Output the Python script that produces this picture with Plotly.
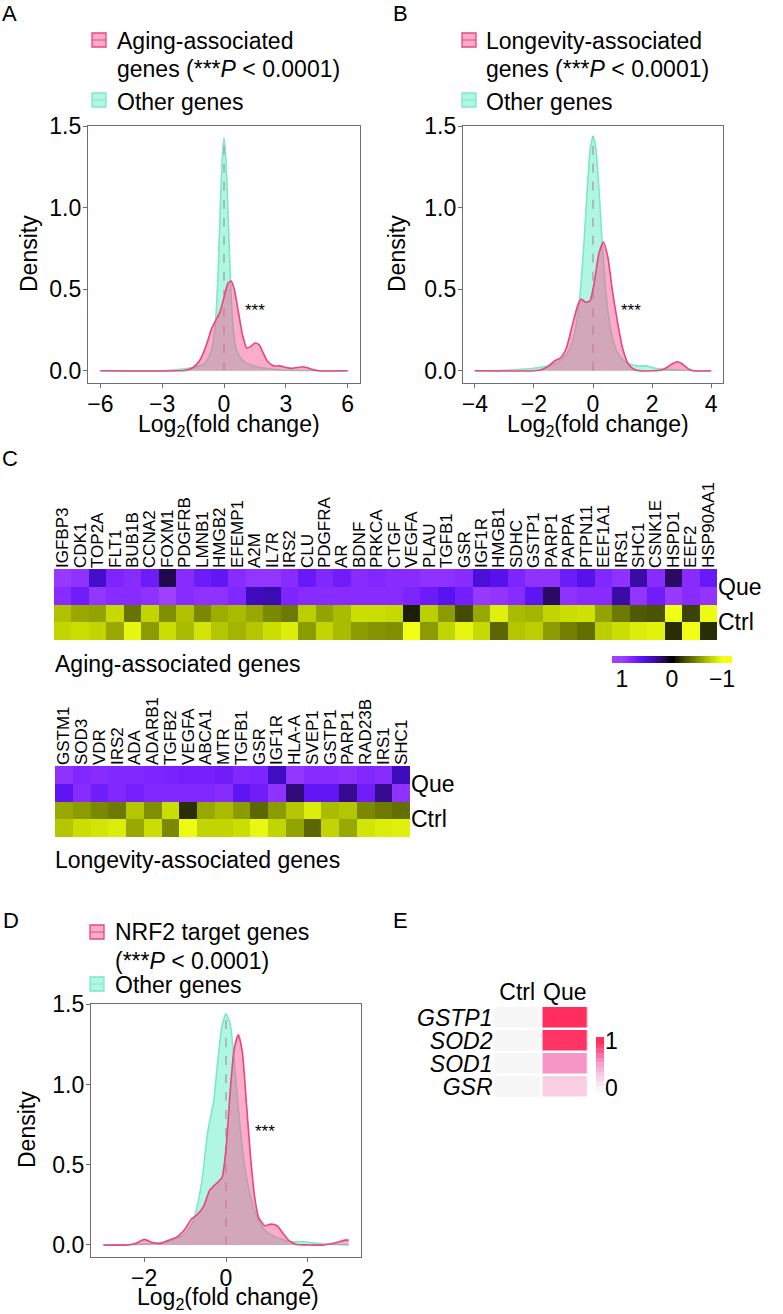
import plotly.graph_objects as go

W, H = 783, 1314
FONT = "Liberation Sans, Arial, Helvetica, sans-serif"

# ---------------- Panel A: aging-associated vs other genes ----------------
a_other_x = [-6, -3, -2, -1.5, -1.2, -1.0, -0.8, -0.6, -0.5, -0.4, -0.3, -0.2, -0.1, 0.0,
             0.1, 0.2, 0.3, 0.4, 0.5, 0.6, 0.8, 1.0, 1.3, 1.6, 2.0, 2.5, 3.0, 6]
a_other_y = [0, 0, 0.01, 0.02, 0.03, 0.04, 0.07, 0.13, 0.2, 0.32, 0.56, 0.92, 1.27, 1.43,
             1.28, 0.95, 0.6, 0.34, 0.2, 0.13, 0.08, 0.055, 0.035, 0.025, 0.015, 0.008, 0.003, 0]
a_aging_x = [-6, -2.2, -1.8, -1.5, -1.2, -1.0, -0.8, -0.6, -0.4, -0.2, 0.0, 0.2, 0.35, 0.5,
             0.7, 0.9, 1.1, 1.3, 1.5, 1.7, 1.9, 2.1, 2.4, 2.7, 3.0, 3.3, 3.6, 3.8, 4.0, 4.3, 4.6, 6]
a_aging_y = [0, 0, 0.005, 0.02, 0.06, 0.11, 0.18, 0.26, 0.31, 0.36, 0.45, 0.54, 0.55, 0.5,
             0.36, 0.22, 0.14, 0.15, 0.17, 0.16, 0.11, 0.06, 0.03, 0.03, 0.02, 0.015, 0.02, 0.025,
             0.02, 0.008, 0, 0]

# ---------------- Panel B: longevity-associated vs other genes ----------------
b_other_x = [-4, -3, -2.5, -2, -1.5, -1.2, -1.0, -0.8, -0.6, -0.45, -0.3, -0.2, -0.1, 0,
             0.1, 0.2, 0.3, 0.45, 0.6, 0.8, 1.0, 1.2, 1.5, 1.8, 2.0, 2.3, 2.8, 3.2, 4]
b_other_y = [0, 0.003, 0.008, 0.015, 0.03, 0.05, 0.08, 0.13, 0.25, 0.45, 0.8, 1.1, 1.35, 1.44,
             1.36, 1.12, 0.82, 0.45, 0.25, 0.12, 0.07, 0.045, 0.03, 0.03, 0.02, 0.01, 0.005, 0.002, 0]
b_long_x = [-4, -2.0, -1.7, -1.5, -1.3, -1.1, -0.9, -0.7, -0.5, -0.4, -0.25, -0.1, 0.05, 0.2,
            0.35, 0.5, 0.65, 0.8, 1.0, 1.2, 1.4, 1.6, 2.0, 2.3, 2.5, 2.7, 2.85, 3.0, 3.2, 3.4, 4]
b_long_y = [0, 0, 0.01, 0.03, 0.06, 0.08, 0.14, 0.28, 0.41, 0.44, 0.42, 0.43, 0.55, 0.72,
            0.79, 0.7, 0.5, 0.33, 0.14, 0.04, 0.008, 0, 0, 0.005, 0.02, 0.045, 0.055, 0.045,
            0.015, 0, 0]

# ---------------- Panel D: NRF2 target genes vs other genes ----------------
d_other_x = [-3, -2.0, -1.6, -1.3, -1.0, -0.8, -0.6, -0.45, -0.3, -0.2, -0.1, 0, 0.1, 0.2,
             0.3, 0.45, 0.6, 0.8, 1.0, 1.3, 1.6, 1.9, 2.2, 2.5, 3]
d_other_y = [0, 0.005, 0.015, 0.03, 0.07, 0.15, 0.38, 0.7, 0.9, 1.15, 1.36, 1.44, 1.38, 1.15,
             0.85, 0.5, 0.3, 0.15, 0.08, 0.04, 0.02, 0.02, 0.01, 0.005, 0]
d_nrf2_x = [-3, -2.4, -2.2, -2.0, -1.8, -1.6, -1.4, -1.2, -1.0, -0.85, -0.7, -0.55, -0.4,
            -0.25, -0.1, 0.0, 0.1, 0.2, 0.3, 0.4, 0.5, 0.6, 0.7, 0.8, 0.95, 1.1, 1.25, 1.4,
            1.55, 1.7, 2.0, 2.4, 2.7, 2.9, 3.0]
d_nrf2_y = [0, 0, 0.01, 0.035, 0.015, 0.01, 0.03, 0.05, 0.1, 0.16, 0.19, 0.24, 0.34, 0.38,
            0.42, 0.6, 0.95, 1.22, 1.31, 1.2, 0.88, 0.55, 0.3, 0.17, 0.12, 0.13, 0.12, 0.07,
            0.025, 0.005, 0, 0, 0.015, 0.03, 0.03]

# ---------------- Panel C: heatmaps ----------------
aging_genes = ["IGFBP3", "CDK1", "TOP2A", "FLT1", "BUB1B", "CCNA2", "FOXM1", "PDGFRB", "LMNB1",
               "HMGB2", "EFEMP1", "A2M", "IL7R", "IRS2", "CLU", "PDGFRA", "AR", "BDNF", "PRKCA",
               "CTGF", "VEGFA", "PLAU", "TGFB1", "GSR", "IGF1R", "HMGB1", "SDHC", "GSTP1",
               "PARP1", "PAPPA", "PTPN11", "EEF1A1", "IRS1", "SHC1", "CSNK1E", "HSPD1", "EEF2",
               "HSP90AA1"]
aging_que1 = [0.95, 0.9, 0.45, 0.8, 0.85, 0.7, 0.15, 0.85, 0.7, 0.65, 0.85, 0.92, 0.92, 0.85,
              0.68, 0.82, 0.72, 0.85, 0.82, 0.85, 0.85, 0.9, 0.9, 0.85, 0.5, 0.58, 0.8, 0.9,
              0.9, 0.7, 0.58, 0.82, 0.9, 0.35, 0.85, 0.2, 0.85, 0.68]
aging_que2 = [0.85, 0.72, 0.92, 0.85, 0.85, 0.9, 1.0, 0.85, 0.9, 0.9, 0.82, 0.4, 0.38, 0.8,
              0.85, 0.85, 0.85, 0.85, 0.85, 0.85, 0.8, 0.7, 0.6, 0.75, 0.95, 0.92, 0.85, 0.62,
              0.2, 0.9, 0.85, 0.85, 0.35, 0.92, 0.72, 0.95, 0.85, 0.92]
aging_ctrl1 = [-0.7, -0.6, -0.58, -0.8, -0.4, -0.78, -0.5, -0.7, -0.48, -0.62, -0.68, -0.6,
               -0.48, -0.42, -0.75, -0.58, -0.68, -0.82, -0.82, -0.8, -0.1, -0.75, -0.55, -0.25,
               -0.6, -0.92, -0.68, -0.65, -0.78, -0.82, -0.84, -0.58, -0.42, -0.3, -0.28, -1.0,
               -0.22, -0.98]
aging_ctrl2 = [-0.78, -0.82, -0.78, -0.6, -0.95, -0.55, -0.82, -0.68, -0.86, -0.72, -0.65,
               -0.72, -0.82, -0.9, -0.55, -0.78, -0.68, -0.55, -0.52, -0.5, -1.0, -0.55, -0.78,
               -0.95, -0.8, -0.35, -0.72, -0.75, -0.55, -0.45, -0.38, -0.75, -0.82, -0.9, -0.93,
               -0.15, -1.0, -0.15]

long_genes = ["GSTM1", "SOD3", "VDR", "IRS2", "ADA", "ADARB1", "TGFB2", "VEGFA", "ABCA1", "MTR",
              "TGFB1", "GSR", "IGF1R", "HLA-A", "SVEP1", "GSTP1", "PARP1", "RAD23B", "IRS1", "SHC1"]
long_que1 = [0.9, 0.82, 0.85, 0.82, 0.82, 0.8, 0.78, 0.75, 0.75, 0.72, 0.82, 0.8, 0.42, 0.92,
             0.85, 0.85, 0.88, 0.82, 0.85, 0.4]
long_que2 = [0.62, 0.85, 0.72, 0.82, 0.75, 0.82, 0.82, 0.82, 0.82, 0.85, 0.62, 0.72, 0.9, 0.25,
             0.65, 0.65, 0.3, 0.72, 0.3, 0.9]
long_ctrl1 = [-0.6, -0.55, -0.48, -0.42, -0.72, -0.5, -0.82, -0.15, -0.6, -0.68, -0.55, -0.35,
              -0.55, -0.72, -0.9, -0.68, -0.72, -0.48, -0.42, -0.38]
long_ctrl2 = [-0.72, -0.82, -0.86, -0.9, -0.6, -0.82, -0.48, -0.98, -0.78, -0.78, -0.82, -0.96,
              -0.78, -0.58, -0.35, -0.78, -0.6, -0.86, -0.9, -0.92]
row_labels = ["Que", "Ctrl"]

# ---------------- Panel E: NRF2 targets heatmap ----------------
e_genes = ["GSTP1", "SOD2", "SOD1", "GSR"]
e_groups = ["Ctrl", "Que"]
e_ctrl = [0.0, 0.0, 0.0, 0.0]
e_que = [1.0, 0.97, 0.55, 0.25]

# ---------------- styling ----------------
PINK_LINE = "#e8467c"
PINK_FILL = "rgba(245,90,145,0.5)"
GREEN_LINE = "#7ee8c6"
GREEN_FILL = "rgba(110,240,200,0.55)"
DASH = "#a8a8a8"
AXC = "#6e6e6e"

CS_C = [[0.0, "#f0ff14"], [0.1, "#c6da00"], [0.2, "#98a800"], [0.3, "#687400"],
        [0.4, "#383d06"], [0.5, "#000000"], [0.6, "#2a0a62"], [0.7, "#3e0cbc"],
        [0.8, "#5a12f2"], [0.9, "#7e24ff"], [1.0, "#a040ff"]]
CS_E = [[0.0, "#f6f6f6"], [0.3, "#f9c6df"], [0.6, "#f48cbf"], [0.8, "#f8588f"], [1.0, "#ff2e5e"]]


def px(x):
    return x / W


def py(y):
    return 1 - y / H


fig = go.Figure()


def density(xa, ya, ox, oy, gx, gy):
    fig.add_trace(go.Scatter(x=ox, y=oy, xaxis=xa, yaxis=ya, mode="lines",
                             line=dict(color=GREEN_LINE, width=1.6, shape="spline", smoothing=0.6),
                             fill="tozeroy", fillcolor=GREEN_FILL, hoverinfo="skip"))
    fig.add_trace(go.Scatter(x=[0, 0], y=[0, max(oy)], xaxis=xa, yaxis=ya, mode="lines",
                             line=dict(color=DASH, width=1.5, dash="dash"), hoverinfo="skip"))
    fig.add_trace(go.Scatter(x=gx, y=gy, xaxis=xa, yaxis=ya, mode="lines",
                             line=dict(color=PINK_LINE, width=1.6, shape="spline", smoothing=0.6),
                             fill="tozeroy", fillcolor=PINK_FILL, hoverinfo="skip"))


density("x", "y", a_other_x, a_other_y, a_aging_x, a_aging_y)
density("x2", "y2", b_other_x, b_other_y, b_long_x, b_long_y)
density("x3", "y3", d_other_x, d_other_y, d_nrf2_x, d_nrf2_y)

# heatmap C (aging)
fig.add_trace(go.Heatmap(z=[aging_que1, aging_que2, aging_ctrl1, aging_ctrl2],
                         x=list(range(len(aging_genes))), y=[0, 1, 2, 3],
                         colorscale=CS_C, zmin=-1, zmax=1, showscale=False,
                         xaxis="x4", yaxis="y4", hoverinfo="skip"))
# heatmap C (longevity)
fig.add_trace(go.Heatmap(z=[long_que1, long_que2, long_ctrl1, long_ctrl2],
                         x=list(range(len(long_genes))), y=[0, 1, 2, 3],
                         colorscale=CS_C, zmin=-1, zmax=1, showscale=False,
                         xaxis="x5", yaxis="y5", hoverinfo="skip"))
# colour key C (1 on the left, -1 on the right)
key_c = [i / 20 for i in range(-24, 25)]
fig.add_trace(go.Heatmap(z=[key_c], x=key_c, y=[0], colorscale=CS_C, zmin=-1, zmax=1,
                         showscale=False, xaxis="x6", yaxis="y6", hoverinfo="skip"))
# heatmap E
fig.add_trace(go.Heatmap(z=[[c, q] for c, q in zip(e_ctrl, e_que)], x=e_groups, y=e_genes,
                         colorscale=CS_E, zmin=0, zmax=1, showscale=False, xgap=2.5, ygap=2.5,
                         xaxis="x7", yaxis="y7", hoverinfo="skip"))
# colour key E
key_e = [i / 10 for i in range(-1, 12)]
fig.add_trace(go.Heatmap(z=[[v] for v in key_e], x=[0], y=key_e, colorscale=CS_E, zmin=0,
                         zmax=1, showscale=False, xaxis="x8", yaxis="y8", hoverinfo="skip"))

tickfont = dict(size=23, color="black", family=FONT)


def dens_x(dom, rng, vals, anchor):
    return dict(domain=[px(dom[0]), px(dom[1])], range=rng, tickvals=vals, showline=True,
                mirror=True, linecolor=AXC, linewidth=1.4, ticks="outside", ticklen=4,
                tickcolor=AXC, tickwidth=1.2, tickfont=tickfont, showgrid=False,
                zeroline=False, anchor=anchor, fixedrange=True, automargin=False,
                ticklabelstandoff=-4)


def dens_y(dom, anchor):
    return dict(domain=[py(dom[1]), py(dom[0])], range=[-0.075, 1.5015],
                tickvals=[0, 0.5, 1.0, 1.5], tickformat=".1f", showline=True, mirror=True,
                linecolor=AXC, linewidth=1.4, ticks="outside", ticklen=4, tickcolor=AXC,
                tickwidth=1.2, tickfont=tickfont, showgrid=False, zeroline=False,
                anchor=anchor, fixedrange=True, automargin=False, ticklabelstandoff=-3)


hidden = dict(showgrid=False, zeroline=False, showline=False, ticks="", fixedrange=True,
              automargin=False)

layout = dict(
    template="none",
    width=W, height=H, margin=dict(l=0, r=0, t=0, b=0, pad=0, autoexpand=False),
    showlegend=False,
    paper_bgcolor="white", plot_bgcolor="white", font=dict(family=FONT, color="black"),
    xaxis=dens_x((88, 360), [-6.6, 6.6], [-6, -3, 0, 3, 6], "y"),
    yaxis=dens_y((126, 383), "x"),
    xaxis2=dens_x((463, 723), [-4.4, 4.4], [-4, -2, 0, 2, 4], "y2"),
    yaxis2=dens_y((126, 383), "x2"),
    xaxis3=dens_x((91, 361), [-3.3, 3.3], [-2, 0, 2], "y3"),
    yaxis3=dens_y((1004, 1257), "x3"),
    xaxis4=dict(hidden, domain=[px(54), px(717)], range=[-0.5, len(aging_genes) - 0.5],
                side="top", tickmode="array", tickvals=list(range(len(aging_genes))),
                ticktext=aging_genes, tickangle=-90, tickfont=dict(size=17, family=FONT),
                anchor="y4"),
    yaxis4=dict(hidden, domain=[py(640), py(569)], range=[3.5, -0.5], side="right",
                tickvals=[0.5, 2.5], ticktext=row_labels, tickfont=tickfont, anchor="x4"),
    xaxis5=dict(hidden, domain=[px(55), px(410)], range=[-0.5, len(long_genes) - 0.5],
                side="top", tickmode="array", tickvals=list(range(len(long_genes))),
                ticktext=long_genes, tickangle=-90, tickfont=dict(size=17, family=FONT),
                anchor="y5"),
    yaxis5=dict(hidden, domain=[py(837), py(766)], range=[3.5, -0.5], side="right",
                tickvals=[0.5, 2.5], ticktext=row_labels, tickfont=tickfont, anchor="x5"),
    xaxis6=dict(hidden, domain=[px(612), px(732)], range=[1.2, -1.2], tickvals=[1, 0, -1],
                ticktext=["1", "0", "\u22121"], tickfont=tickfont, anchor="y6"),
    yaxis6=dict(hidden, domain=[py(663), py(656)], range=[-0.5, 0.5], showticklabels=False,
                anchor="x6"),
    xaxis7=dict(hidden, domain=[px(493.5), px(588.5)], side="top", tickfont=tickfont,
                anchor="y7", range=[-0.5, 1.5]),
    yaxis7=dict(hidden, domain=[py(1098), py(1006)], range=[3.5, -0.5], tickmode="array",
                tickvals=e_genes, ticktext=["<i>%s</i>" % g for g in e_genes],
                tickfont=tickfont, anchor="x7"),
    xaxis8=dict(hidden, domain=[px(596), px(604)], showticklabels=False, anchor="y8",
                range=[-0.5, 0.5]),
    yaxis8=dict(hidden, domain=[py(1092), py(1037)], range=[-0.09, 1.09], side="right",
                tickvals=[0, 1], ticktext=["0", "1"], tickfont=tickfont, anchor="x8"),
)
fig.update_layout(**layout)

# ---------- annotations ----------
ann = []


def text(x, y, s, size=23, xanchor="left", angle=0):
    ann.append(dict(x=px(x), y=py(y), xref="paper", yref="paper", text=s, showarrow=False,
                    xanchor=xanchor, yanchor="middle", textangle=angle,
                    font=dict(size=size, color="black", family=FONT)))


# panel letters
text(9, 13, "A", 22, "center")
text(400, 13, "B", 22, "center")
text(10, 458, "C", 22, "center")
text(11, 920, "D", 22, "center")
text(400, 920, "E", 22, "center")

# legends
text(115, 41, "Aging-associated")
text(115, 69, "genes (***<i>P</i> &lt; 0.0001)")
text(115, 102, "Other genes")
text(484, 41, "Longevity-associated")
text(484, 69, "genes (***<i>P</i> &lt; 0.0001)")
text(484, 102, "Other genes")
text(113, 932, "NRF2 target genes")
text(113, 961, "(***<i>P</i> &lt; 0.0001)")
text(113, 985, "Other genes")

# axis titles
text(29, 254, "Density", 23, "center", -90)
text(397, 254, "Density", 23, "center", -90)
text(27, 1130, "Density", 23, "center", -90)
text(229, 425, "Log<sub>2</sub>(fold change)", 23, "center")
text(598, 425, "Log<sub>2</sub>(fold change)", 23, "center")
text(228, 1298, "Log<sub>2</sub>(fold change)", 23, "center")

# heatmap set labels
text(53, 664, "Aging-associated genes")
text(53, 860, "Longevity-associated genes")

# significance stars
for xa, ya, xs, ys in [("x", "y", 1.5, 0.37), ("x2", "y2", 1.27, 0.37), ("x3", "y3", 0.95, 0.71)]:
    ann.append(dict(x=xs, y=ys, xref=xa, yref=ya, text="***", showarrow=False,
                    font=dict(size=17, color="black", family=FONT)))

fig.update_layout(annotations=ann)

# legend keys
shapes = []


def key(x0, yc, fill, line):
    shapes.append(dict(type="rect", xref="paper", yref="paper", x0=px(x0), x1=px(x0 + 14),
                       y0=py(yc + 7), y1=py(yc - 7), fillcolor=fill,
                       line=dict(color=line, width=1.3)))
    shapes.append(dict(type="line", xref="paper", yref="paper", x0=px(x0), x1=px(x0 + 14),
                       y0=py(yc), y1=py(yc), line=dict(color=line, width=1)))


key(92, 40, PINK_FILL, PINK_LINE)
key(92, 100, GREEN_FILL, GREEN_LINE)
key(462, 40, PINK_FILL, PINK_LINE)
key(462, 100, GREEN_FILL, GREEN_LINE)
key(90, 932, PINK_FILL, PINK_LINE)
key(90, 984, GREEN_FILL, GREEN_LINE)
fig.update_layout(shapes=shapes)

fig.write_html("out.html", config={"displayModeBar": False},
               post_script="document.body.style.margin='0px';document.body.style.overflow='hidden';")
